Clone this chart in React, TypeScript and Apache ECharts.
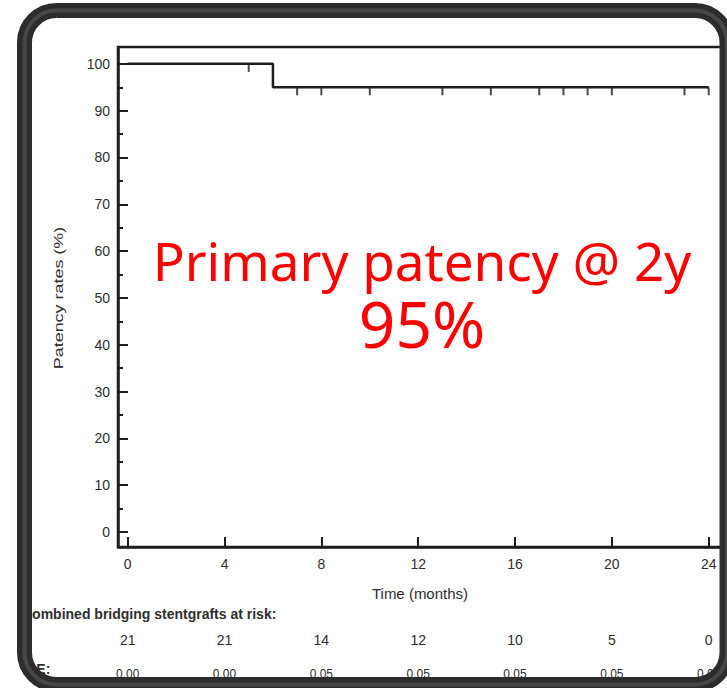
import React, { useEffect, useRef } from "react";
import * as echarts from "echarts";

// Kaplan-Meier curve (months, %)
const survivalTimes = [0, 6, 24];
const survivalValues = [100, 95, 95];
// censored observations (months, %)
const censorTimes = [5, 7, 8, 10, 13, 15, 17, 18, 19, 20, 23, 24];
const censorValues = [100, 95, 95, 95, 95, 95, 95, 95, 95, 95, 95, 95];
// axes
const xTicks = [0, 4, 8, 12, 16, 20, 24];
const yMajorTicks = [0, 10, 20, 30, 40, 50, 60, 70, 80, 90, 100];
const yMinorTicks = [5, 15, 25, 35, 45, 55, 65, 75, 85, 95];
// at-risk table
const atRisk = [21, 21, 14, 12, 10, 5, 0];
const seValues = ["0.00", "0.00", "0.05", "0.05", "0.05", "0.05", "0.05"];

const X_MIN = -0.4;
const X_MAX = 24.55;
const Y_MIN = -3.2;
const Y_MAX = 103.6;

const INK = "#1e1e1e";
const LABEL = "#2e2e2e";
const FONT = "'Liberation Sans', Arial, sans-serif";

export default function App() {
  const ref = useRef<HTMLDivElement>(null);

  useEffect(() => {
    if (!ref.current) return;
    const chart = echarts.init(ref.current, undefined, { renderer: "svg" });

    const lineData = survivalTimes.map((t, i) => [t, survivalValues[i]]);
    const censorData = censorTimes.map((t, i) => [t, censorValues[i]]);
    const tickIndex = (v: number) => xTicks.indexOf(Math.round(v));

    const hiddenX = (offset: number, fmt: (v: number) => string, size: number) => ({
      type: "value",
      gridIndex: 0,
      position: "bottom",
      min: X_MIN,
      max: X_MAX,
      offset,
      axisLine: { show: false, onZero: false },
      axisTick: { show: false },
      splitLine: { show: false },
      axisLabel: {
        customValues: xTicks,
        formatter: fmt,
        margin: 0,
        color: LABEL,
        fontFamily: FONT,
        fontSize: size,
        verticalAlign: "top",
      },
    });

    chart.setOption({
      animation: false,
      backgroundColor: "#ffffff",
      grid: {
        left: 118,
        top: 47,
        width: 604,
        height: 500,
        show: true,
        borderColor: INK,
        borderWidth: 2.5,
        backgroundColor: "transparent",
      },
      xAxis: [
        {
          type: "value",
          min: X_MIN,
          max: X_MAX,
          position: "bottom",
          name: "Time (months)",
          nameLocation: "middle",
          nameGap: 39,
          nameTextStyle: { color: LABEL, fontFamily: FONT, fontSize: 15 },
          axisLine: { show: true, onZero: false, lineStyle: { color: INK, width: 2.5 } },
          axisTick: {
            show: true,
            inside: true,
            length: 10,
            customValues: xTicks,
            lineStyle: { color: INK, width: 2 },
          },
          axisLabel: {
            customValues: xTicks,
            margin: 10,
            color: LABEL,
            fontFamily: FONT,
            fontSize: 14,
          },
          splitLine: { show: false },
        },
        hiddenX(86, (v: number) => String(atRisk[tickIndex(v)] ?? ""), 14),
        hiddenX(121, (v: number) => seValues[tickIndex(v)] ?? "", 12),
      ],
      yAxis: [
        {
          type: "value",
          min: Y_MIN,
          max: Y_MAX,
          position: "left",
          axisLine: { show: true, onZero: false, lineStyle: { color: INK, width: 2.5 } },
          axisTick: {
            show: true,
            inside: true,
            length: 10,
            customValues: yMajorTicks,
            lineStyle: { color: INK, width: 2 },
          },
          axisLabel: {
            customValues: yMajorTicks,
            margin: 8,
            color: LABEL,
            fontFamily: FONT,
            fontSize: 14,
          },
          splitLine: { show: false },
        },
        {
          type: "value",
          min: Y_MIN,
          max: Y_MAX,
          position: "left",
          offset: 0,
          axisLine: { show: false, onZero: false },
          axisTick: {
            show: true,
            inside: true,
            length: 5,
            customValues: yMinorTicks,
            lineStyle: { color: INK, width: 2 },
          },
          axisLabel: { show: false },
          splitLine: { show: false },
        },
      ],
      series: [
        {
          type: "line",
          step: "end",
          data: lineData,
          showSymbol: false,
          lineStyle: { color: INK, width: 2.5 },
          z: 3,
        },
        {
          type: "scatter",
          data: censorData,
          symbol: "rect",
          symbolSize: [2, 8],
          symbolOffset: [0, 4],
          itemStyle: { color: INK },
          z: 4,
        },
      ],
      graphic: [
        {
          type: "text",
          x: 58,
          y: 298,
          rotation: Math.PI / 2,
          scaleX: 1.38,
          style: {
            text: "Patency rates (%)",
            fill: LABEL,
            font: `13px ${FONT}`,
            align: "center",
            verticalAlign: "middle",
          },
        },
        {
          type: "text",
          x: 22,
          y: 614,
          style: {
            text: "Combined bridging stentgrafts at risk:",
            fill: LABEL,
            font: `bold 14px ${FONT}`,
            align: "left",
            verticalAlign: "middle",
          },
        },
        {
          type: "text",
          x: 27,
          y: 669,
          style: {
            text: "SE:",
            fill: LABEL,
            font: `bold 14px ${FONT}`,
            align: "left",
            verticalAlign: "middle",
          },
        },
        {
          type: "text",
          x: 422,
          y: 293,
          style: {
            text: "{a|Primary patency @ 2y}\n{b|95%}",
            align: "center",
            verticalAlign: "middle",
            rich: {
              a: {
                fill: "#ff0000",
                fontFamily: "'Noto Sans', sans-serif",
                fontSize: 53,
                lineHeight: 60,
                align: "center",
              },
              b: {
                fill: "#ff0000",
                fontFamily: "'Noto Sans', sans-serif",
                fontSize: 64,
                lineHeight: 66,
                align: "center",
              },
            },
          },
          z: 50,
        },
        {
          type: "rect",
          shape: { x: 24.5, y: 10.5, width: 702.5, height: 674, r: 32 },
          style: { fill: "none", stroke: "#2c2c2c", lineWidth: 15 },
          z: 100,
        },
        {
          type: "rect",
          shape: { x: 24.5, y: 10.5, width: 702.5, height: 674, r: 32 },
          style: { fill: "none", stroke: "#474747", lineWidth: 4 },
          z: 101,
        },
      ],
    });

    return () => chart.dispose();
  }, []);

  return (
    <div
      ref={ref}
      style={{ position: "fixed", left: 0, top: 0, width: 727, height: 688 }}
    />
  );
}
